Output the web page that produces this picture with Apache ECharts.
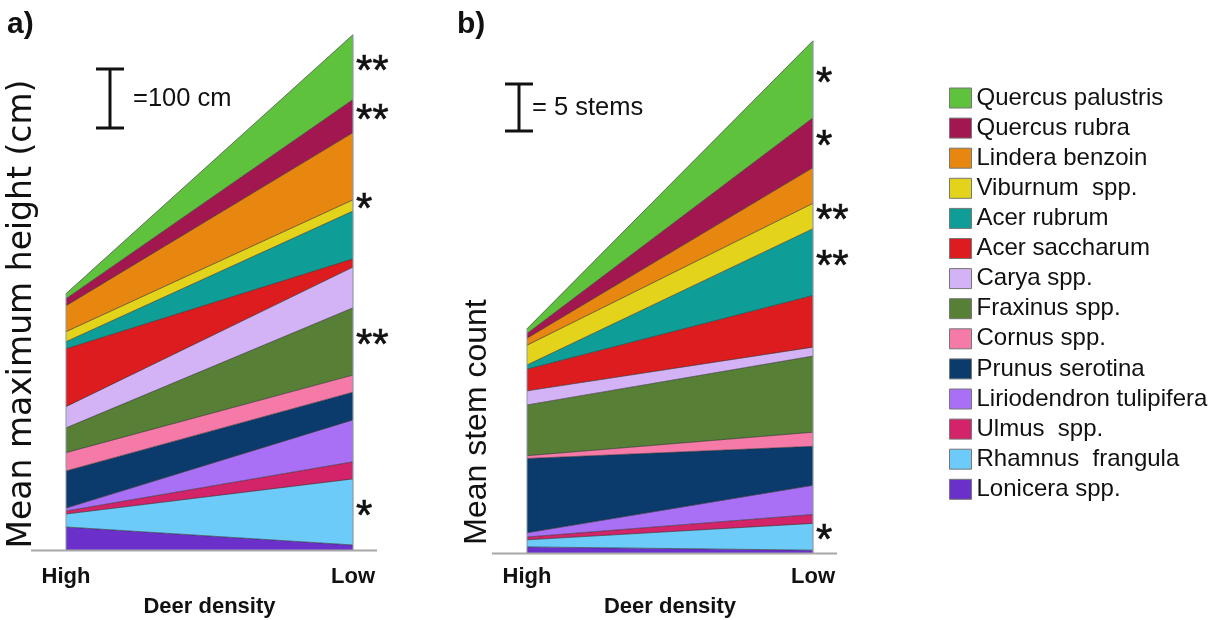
<!DOCTYPE html>
<html><head><meta charset="utf-8">
<script src="https://cdn.jsdelivr.net/npm/echarts@6/dist/echarts.min.js"></script>
<style>html,body{margin:0;padding:0;background:#fff}#c{width:1215px;height:620px}</style>
</head><body><div id="c"></div>
<script>
// Categories (x axis)
const categories = ['High', 'Low'];
// Species, listed top of stack to bottom (legend order)
const species = ['Quercus palustris','Quercus rubra','Lindera benzoin','Viburnum  spp.','Acer rubrum','Acer saccharum','Carya spp.','Fraxinus spp.','Cornus spp.','Prunus serotina','Liriodendron tulipifera','Ulmus  spp.','Rhamnus  frangula','Lonicera spp.'];
const colors = ['#5fc23c','#a2174f','#e8870f','#e4d31b','#0e9d97','#dc1c1e','#d3b3f6','#577f36','#f57aa7','#0b3a6d','#a96ff5','#d3246a','#6ccbf9','#6a30c9'];
// a) Mean maximum height (cm) at High / Low deer density
const heightHigh = [8.5, 12, 44, 17, 12, 98, 36, 42, 31, 63, 5, 5, 22, 39];
const heightLow  = [110, 56, 114, 19, 81, 14, 69, 114, 29, 47, 71, 29, 112, 8.5];
// b) Mean stem count at High / Low deer density
const stemsHigh = [0.5, 0.5, 0.75, 2.1, 0.45, 2.3, 1.5, 5.4, 0.3, 7.9, 0.45, 0.3, 0.75, 0.65];
const stemsLow  = [8.2, 5.3, 3.8, 2.7, 7.1, 5.5, 0.95, 8.1, 1.5, 4.15, 3.1, 0.95, 2.85, 0.3];
// Significance marks at low deer density
const sigHeight = ['**','**','','*','','','','**','','','','','*',''];
const sigStems  = ['*','*','','**','**','','','','','','','','*',''];
const panelLabels = ['a)', 'b)'];
const yTitles = ['Mean maximum height (cm)', 'Mean stem count'];
const xTitle = 'Deer density';
const scaleBars = [{value: 100, label: '=100 cm'}, {value: 5, label: '= 5 stems'}];

const FONT = 'Liberation Sans, Arial, sans-serif';
const chart = echarts.init(document.getElementById('c'), null, {renderer: 'canvas'});

function buildSeries(high, low, idx) {
  const out = [];
  for (let i = species.length - 1; i >= 0; i--) {
    out.push({
      name: species[i], type: 'line', stack: 'p' + idx,
      xAxisIndex: idx, yAxisIndex: idx,
      data: [high[i], low[i]],
      showSymbol: false, symbol: 'none', silent: true,
      color: colors[i],
      lineStyle: {width: 0.8, color: 'rgba(45,45,45,0.8)'},
      areaStyle: {color: colors[i], opacity: 1},
      emphasis: {disabled: true}
    });
  }
  return out;
}

const grids = [
  {left: 66, width: 287, bottom: 70, top: 19, outerBoundsMode: 'none', containLabel: false},
  {left: 527, width: 286, bottom: 67, top: 26.6, outerBoundsMode: 'none', containLabel: false}
];
const yMax = [900, 56];
const labelMargin = [16, 13];
const nameGap = [46, 43];

const xAxes = grids.map((g, i) => ({
  type: 'category', gridIndex: i, data: categories, boundaryGap: false,
  axisLine: {show: false}, axisTick: {show: false}, splitLine: {show: false},
  axisLabel: {fontFamily: FONT, fontWeight: 'bold', fontSize: 22, color: '#111', margin: labelMargin[i]},
  name: xTitle, nameLocation: 'middle', nameGap: nameGap[i],
  nameTextStyle: {fontFamily: FONT, fontWeight: 'bold', fontSize: 22, color: '#111'}
}));
const yAxes = grids.map((g, i) => ({
  type: 'value', gridIndex: i, min: 0, max: yMax[i], show: false
}));

chart.setOption({
  animation: false,
  grid: grids,
  xAxis: xAxes,
  yAxis: yAxes,
  legend: {
    orient: 'vertical', left: 944, top: 81, itemWidth: 22, itemHeight: 20, itemGap: 6.1,
    icon: 'rect', selectedMode: false, data: species,
    itemStyle: {borderColor: '#777', borderWidth: 1},
    textStyle: {fontFamily: FONT, fontSize: 24, color: '#111'}
  },
  series: buildSeries(heightHigh, heightLow, 0).concat(buildSeries(stemsHigh, stemsLow, 1))
});

// Annotations computed through the chart's own scales
const graphics = [];
const panels = [
  {high: heightHigh, low: heightLow, sig: sigHeight, barX: 110, barTop: 69, textGap: 23, labelX: 7,
   titleX: 22, titleY: 314, titleFont: 'DejaVu Sans, sans-serif', titleSize: 33},
  {high: stemsHigh, low: stemsLow, sig: sigStems, barX: 519, barTop: 84, textGap: 13, labelX: 457,
   titleX: 477, titleY: 422, titleFont: FONT, titleSize: 32}
];
panels.forEach((p, i) => {
  const fin = {xAxisIndex: i, yAxisIndex: i};
  const sum = a => a.reduce((s, v) => s + v, 0);
  const base = chart.convertToPixel(fin, [0, 0]);
  const lowBase = chart.convertToPixel(fin, [1, 0]);
  const topHigh = chart.convertToPixel(fin, [0, sum(p.high)]);
  const topLow = chart.convertToPixel(fin, [1, sum(p.low)]);
  // baseline
  graphics.push({type: 'line', silent: true, z: 10,
    shape: {x1: base[0] - 35, y1: base[1] + 0.5, x2: lowBase[0] + 24, y2: base[1] + 0.5},
    style: {stroke: '#a8a8a8', lineWidth: 2}});
  // edges
  graphics.push({type: 'line', silent: true, z: 10,
    shape: {x1: base[0], y1: base[1], x2: topHigh[0], y2: topHigh[1]},
    style: {stroke: '#8c99a6', lineWidth: 1}});
  graphics.push({type: 'line', silent: true, z: 10,
    shape: {x1: lowBase[0], y1: lowBase[1], x2: topLow[0], y2: topLow[1]},
    style: {stroke: '#8c99a6', lineWidth: 1.2}});
  // significance marks at Low, centred on each layer
  let cum = 0;
  const mids = [];
  for (let k = species.length - 1; k >= 0; k--) {
    mids[k] = cum + p.low[k] / 2;
    cum += p.low[k];
  }
  p.sig.forEach((s, k) => {
    if (!s) return;
    const pt = chart.convertToPixel(fin, [1, mids[k]]);
    graphics.push({type: 'text', silent: true, z: 20, x: pt[0] + 3, y: pt[1] + 5,
      style: {text: s, fontFamily: FONT, fontSize: 42, fill: '#111', stroke: '#111', lineWidth: 0.6,
              align: 'left', verticalAlign: 'middle'}});
  });
  // scale bar
  const len = Math.abs(chart.convertToPixel(fin, [0, scaleBars[i].value])[1] - base[1]);
  const bx = p.barX, bt = p.barTop;
  const bar = {stroke: '#111', lineWidth: 3};
  graphics.push({type: 'polyline', silent: true, z: 20,
    shape: {points: [[bx - 14, bt], [bx + 14, bt]]}, style: bar});
  graphics.push({type: 'polyline', silent: true, z: 20,
    shape: {points: [[bx, bt], [bx, bt + len]]}, style: bar});
  graphics.push({type: 'polyline', silent: true, z: 20,
    shape: {points: [[bx - 14, bt + len], [bx + 14, bt + len]]}, style: bar});
  graphics.push({type: 'text', silent: true, z: 20, x: bx + p.textGap, y: bt + len / 2,
    style: {text: scaleBars[i].label, fontFamily: FONT, fontSize: 25.5, fill: '#111', align: 'left', verticalAlign: 'middle'}});
  // panel label
  graphics.push({type: 'text', silent: true, z: 20, x: p.labelX, y: 25,
    style: {text: panelLabels[i], fontFamily: FONT, fontWeight: 'bold', fontSize: 30, fill: '#111', align: 'left', verticalAlign: 'middle'}});
  // y title
  graphics.push({type: 'text', silent: true, z: 20, x: p.titleX, y: p.titleY, rotation: Math.PI / 2,
    style: {text: yTitles[i], fontFamily: p.titleFont, fontSize: p.titleSize, fill: '#111', align: 'center', verticalAlign: 'middle'}});
});
chart.setOption({graphic: graphics});
</script></body></html>
